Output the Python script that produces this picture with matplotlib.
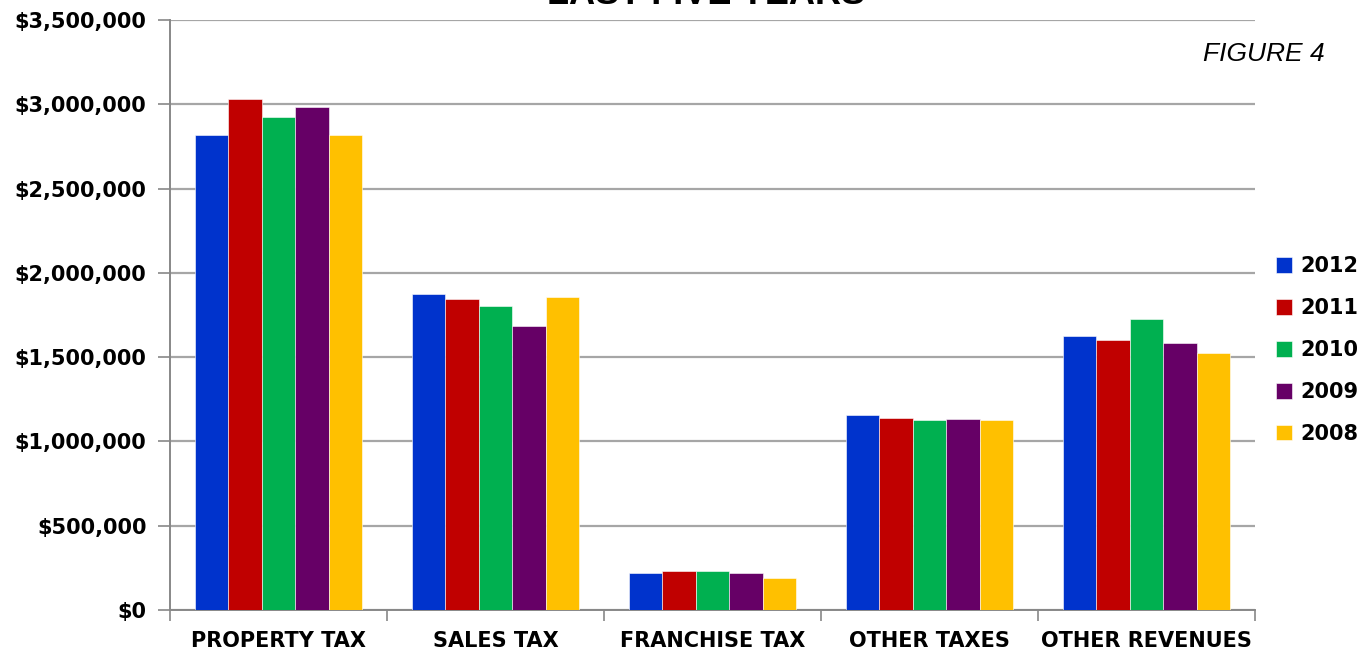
import numpy as np
import matplotlib.pyplot as plt
from matplotlib.ticker import FuncFormatter, MultipleLocator

categories = ["PROPERTY TAX", "SALES TAX", "FRANCHISE TAX", "OTHER TAXES", "OTHER REVENUES"]
years = ["2012", "2011", "2010", "2009", "2008"]

rev_2012 = [2819000, 1876000, 221000, 1154000, 1625000]
rev_2011 = [3033000, 1847000, 233000, 1140000, 1603000]
rev_2010 = [2922000, 1803000, 233000, 1126000, 1728000]
rev_2009 = [2981000, 1685000, 221000, 1134000, 1584000]
rev_2008 = [2819000, 1855000, 190000, 1126000, 1524000]

colors = ["#0033CC", "#C00000", "#00B050", "#660066", "#FFC000"]


def money(v, pos):
    return "${:,.0f}".format(v)


def main():
    series = [rev_2012, rev_2011, rev_2010, rev_2009, rev_2008]
    W, H = 1372, 656
    fig = plt.figure(figsize=(W / 100, H / 100), dpi=100)
    ax = fig.add_axes([170 / W, (H - 610) / H, 1085 / W, 590 / H])

    x = np.arange(len(categories))
    bw = 0.154
    for i, (vals, yr) in enumerate(zip(series, years)):
        ax.bar(x + (i - 2) * bw, vals, bw, color=colors[i], label=yr,
               edgecolor="white", linewidth=0.4, zorder=3)

    ax.set_xlim(-0.5, len(categories) - 0.5)
    ax.set_ylim(0, 3500000)
    ax.yaxis.set_major_locator(MultipleLocator(500000))
    ax.yaxis.set_major_formatter(FuncFormatter(money))
    ax.grid(axis="y", color="#a6a6a6", linewidth=1.6, zorder=0)

    ax.set_xticks(x)
    ax.set_xticklabels(categories, fontsize=15, fontweight="bold",
                       family="DejaVu Sans")
    ax.set_xticks(np.arange(-0.5, len(categories)), minor=True)
    ax.tick_params(axis="x", which="major", length=0, pad=15)
    ax.tick_params(axis="x", which="minor", length=8, color="#888888", width=1.2)
    ax.tick_params(axis="y", length=9, color="#888888", width=1.2, pad=8,
                   labelsize=15)
    for lab in ax.get_yticklabels():
        lab.set_fontweight("bold")

    for s in ["top", "right"]:
        ax.spines[s].set_visible(False)
    for s in ["left", "bottom"]:
        ax.spines[s].set_color("#888888")
        ax.spines[s].set_linewidth(1.4)

    fig.text(706 / W, 1 - 4 / H, "LAST FIVE YEARS", ha="center", va="baseline",
             fontsize=26, fontweight="bold", family="Liberation Sans")
    fig.text(1325 / W, 1 - 61 / H, "FIGURE 4", ha="right", va="baseline",
             fontsize=19, style="italic", family="Liberation Sans")

    fig.legend(loc="center left", bbox_to_anchor=(1257 / W, 1 - 350 / H),
               frameon=False, handlelength=0.8, handleheight=0.8,
               handletextpad=0.4, labelspacing=1.05,
               prop={"weight": "bold", "size": 15})

    fig.savefig("out.png", dpi=100, facecolor="white")


if __name__ == "__main__":
    main()
